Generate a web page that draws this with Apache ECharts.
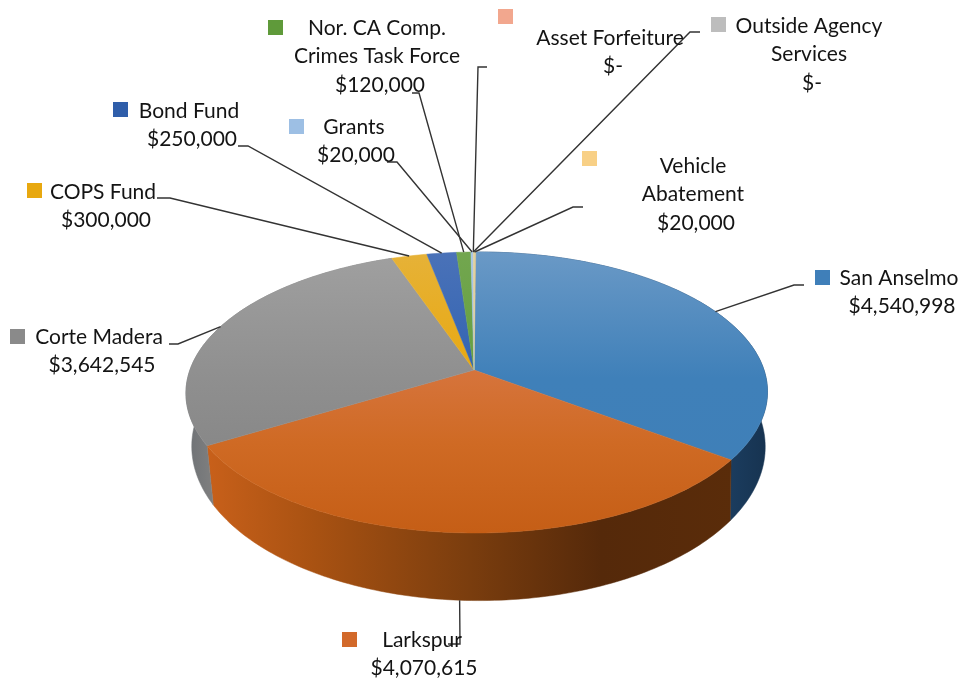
<!DOCTYPE html>
<html><head><meta charset="utf-8">
<style>html,body{margin:0;padding:0;background:#fff}#c{width:962px;height:679px}</style>
<script src="https://cdn.jsdelivr.net/npm/echarts@6/dist/echarts.min.js"></script>
</head><body><div id="c"></div>
<script>
// ---- data ----
const categories = ['San Anselmo','Larkspur','Corte Madera','COPS Fund','Bond Fund',
  'Nor. CA Comp.\nCrimes Task Force','Grants','Asset Forfeiture','Outside Agency\nServices','Vehicle\nAbatement'];
const values = [4540998,4070615,3642545,300000,250000,120000,20000,0,0,20000];

// ---- styling & layout ----
const topColors = [['#6a99c6','#3f80b9','#3f7fb7'],['#d6743c','#cf6a24','#c55e16'],['#a0a0a0','#8f8f8f','#7f7f7f'],
  ['#e6b238','#e8a80f','#e8a80f'],['#4a72b8','#3163b2','#2e5da8'],['#72a64f','#65a03f','#5f9a3a'],
  ['#a8c6e8','#9dbfe4','#9dbfe4'],['#f2a78e','#f2a78e','#f2a78e'],['#c4c4c4','#c0c0c0','#c0c0c0'],['#e3d09a','#e3d09a','#e3d09a']];
const keyColors = ['#3f7fb9','#d2692a','#8a8a8a','#e8a80f','#2f5eaa','#5f9a3a','#9dbfe4','#f2a78e','#bdbdbd','#f8d086'];
const font = '21px Lato, Carlito, "Open Sans", sans-serif';
// rim anchor is computed from the slice; these are the label-side elbows
const elbows = [[[794,285],[804,285]],[[460,644],[448,644]],[[178,344],[169,344]],[[170,198],[157,198]],
  [[248,146],[238,146]],[[419,93],[412,93]],[[397,162],[387,162]],[[478,67],[487,67]],[[690,32],[700,32]],[[573,207],[583,207]]];
const keys = [[815,270],[342,632],[10,329],[27,183],[113,102],[268,20],[289,119],[498,9],[711,17],[582,151]];
// index-aligned with categories: [name centre x, value centre x, first-line centre y]
const labelPos = [[899,902,278],[422,424,640],[99,102,337],[103,106,192],[189,192,111],
  [377,380,28],[354,356,127],[610,613,38],[809,812,26],[693,696,166]];
const lineH = 28.5;

// ---- perspective projection of the pie's two circular faces ----
const topFace = {x:474,y:370,A:287,B:136.9,w:0.16,q:-0.0103,K:2};
const botFace = {x:475,y:422,A:283,B:150,w:0.16,q:-0.012,K:0};
function proj(f,deg){
  const t=deg*Math.PI/180,u=Math.sin(t),v=Math.cos(t),s=1/(1+f.w*v+f.q*u);
  return [f.x+(f.A*u+f.K*v)*s,f.y-f.B*v*s];
}
const total=values.reduce((a,b)=>a+b,0);
const starts=[];let acc=0;
values.forEach(v=>{starts.push(acc);acc+=v/total*360;});
function arc(f,a,b){
  const n=Math.max(2,Math.ceil(Math.abs(b-a)));const out=[];
  for(let i=0;i<=n;i++)out.push(proj(f,a+(b-a)*i/n));
  return out;
}
const grad=(x,y,x2,y2,stops)=>({type:'linear',x,y,x2,y2,global:true,
  colorStops:stops.map(s=>({offset:s[0],color:s[1]}))});
const wallFill=[
  grad(640,0,770,0,[[0,'#1f4468'],[0.7,'#1b3c5e'],[1,'#16324f']]),
  grad(207,0,733,0,[[0,'#c8601a'],[0.2,'#a95212'],[0.5,'#7a3d0e'],[0.75,'#55290a'],[1,'#5a2c0a']]),
  grad(184,0,214,0,[[0,'#6c7074'],[1,'#808080']])
];
function fmt(v){return v===0?'$-':'$'+v.toLocaleString('en-US');}

const seriesData=values.map((v,i)=>[i,v]);
function wallItem(p,api){
  const i=api.value(0),v=api.value(1);
  if(!wallFill[i])return null;
  const a=starts[i],b=a+v/total*360;
  const pts=arc(topFace,a,b).concat(arc(botFace,a,b).reverse());
  return {type:'polygon',shape:{points:pts},style:{fill:wallFill[i],stroke:wallFill[i],lineWidth:0.5}};
}
function topItem(p,api){
  const i=api.value(0),v=api.value(1);
  if(v===0)return null;
  const a=starts[i],b=a+v/total*360;
  const pts=[[topFace.x,topFace.y]].concat(arc(topFace,a,b));
  const c=topColors[i];
  const y0=i===1?370:252;
  const fill=grad(0,y0,0,533,[[0,c[0]],[0.45,c[1]],[1,c[2]]]);
  return {type:'polygon',shape:{points:pts},style:{fill,stroke:fill,lineWidth:0.5}};
}
function lineItem(p,api){
  const i=api.value(0),v=api.value(1);
  const mid=starts[i]+v/total*180;
  const anchor=proj(i===1?botFace:topFace,mid);
  return {type:'polyline',shape:{points:[anchor].concat(elbows[i])},
    style:{fill:'none',stroke:'#333333',lineWidth:1.4}};
}
function labelItem(p,api){
  const i=api.value(0),v=api.value(1);
  const lp=labelPos[i],k=keys[i],names=categories[i].split('\n');
  const kids=[{type:'rect',shape:{x:k[0],y:k[1],width:15,height:15},
    style:{fill:keyColors[i]}}];
  names.forEach((n,j)=>kids.push({type:'text',style:{text:n,x:lp[0],y:lp[2]+j*lineH,align:'center',verticalAlign:'middle',font,fill:'#141414'}}));
  kids.push({type:'text',style:{text:fmt(v),x:lp[1],y:lp[2]+names.length*lineH,align:'center',verticalAlign:'middle',font,fill:'#141414'}});
  return {type:'group',children:kids};
}
const mk=(renderItem,z)=>({type:'custom',coordinateSystem:'none',renderItem,data:seriesData,z,silent:true,clip:false});
const chart=echarts.init(document.getElementById('c'),null,{renderer:'canvas'});
chart.setOption({animation:false,backgroundColor:'#fff',
  series:[mk(wallItem,1),mk(topItem,2),mk(lineItem,3),mk(labelItem,4)]});
</script></body></html>
